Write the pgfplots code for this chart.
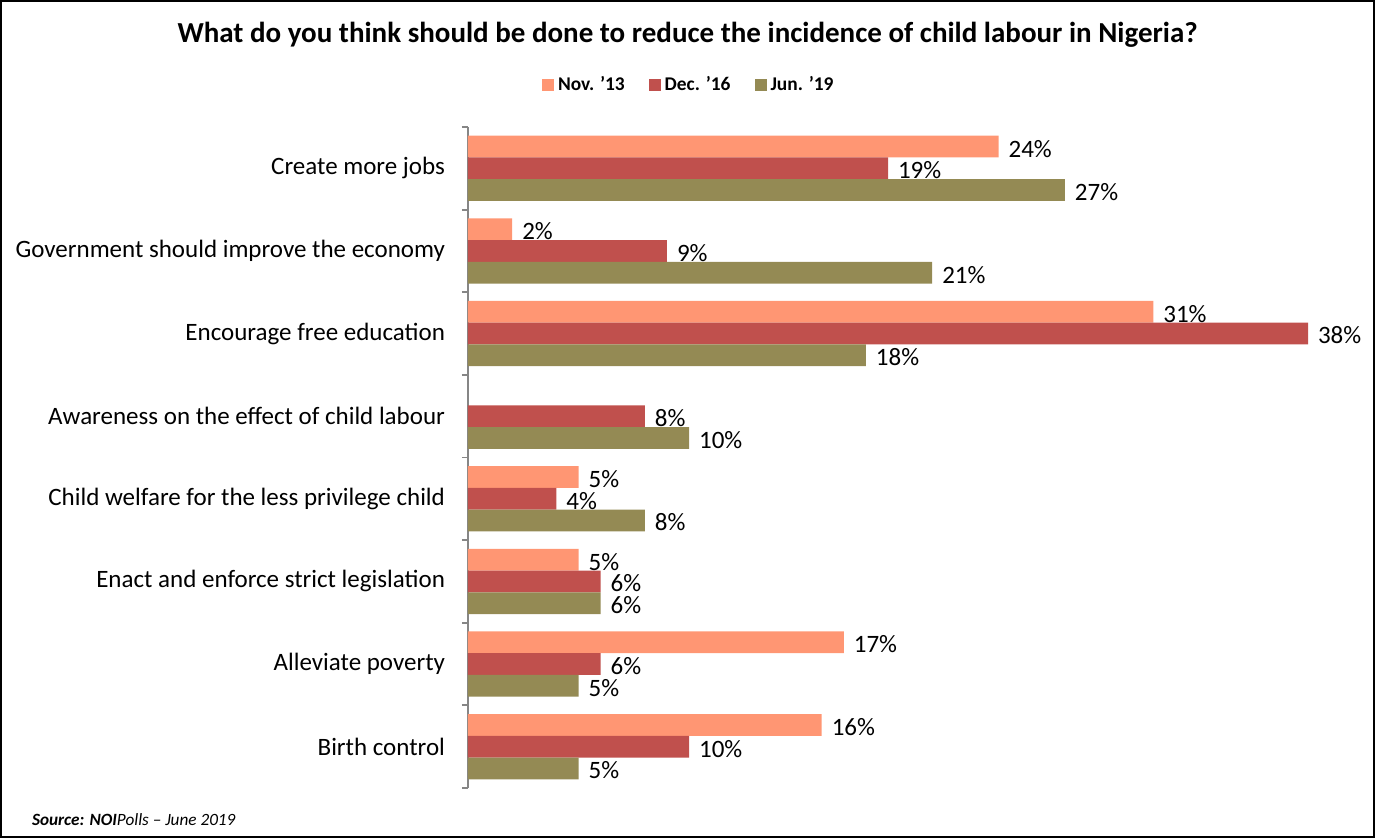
\documentclass[border=0pt]{standalone}
\usepackage{pgfplots}
\pgfplotsset{compat=1.18}
\usepackage{fontspec}
\setmainfont{Carlito}
\definecolor{cNov}{HTML}{FF9673}
\definecolor{cDec}{HTML}{C0504D}
\definecolor{cJun}{HTML}{948A54}
\definecolor{axgray}{HTML}{868686}
\begin{document}
\begin{tikzpicture}
\path[use as bounding box] (0,0) rectangle (687.5pt,419pt);
\draw[black,line width=0.8pt] (0.4pt,0.4pt) rectangle (687.1pt,418.6pt);
\node[font=\bfseries\fontsize{14.5}{16}\selectfont] at (343.75pt,401.5pt) {What do you think should be done to reduce the incidence of child labour in Nigeria?};
\node[anchor=west,font=\fontsize{8.6}{10}\selectfont\itshape] at (12.5pt,9pt) {\textbf{Source: NOI}Polls -- June 2019};
\begin{axis}[
  at={(234pt,25pt)}, anchor=south west,
  scale only axis, width=420pt, height=330.5pt,
  xmin=0, xmax=38, ymin=-0.5, ymax=7.5,
  y dir=reverse,
  axis x line=none,
  axis y line*=left,
  y axis line style={axgray, line width=0.9pt},
  xbar, bar width=0.263,
  ytick={0,...,7},
  yticklabels={Create more jobs, Government should improve the economy, Encourage free education, Awareness on the effect of child labour, Child welfare for the less privilege child, Enact and enforce strict legislation, Alleviate poverty, Birth control},
  minor ytick={-0.5,0.5,...,7.5},
  major tick length=0pt, minor tick length=3pt,
  tick align=outside,
  minor tick style={axgray, line width=0.9pt},
  yticklabel style={font=\fontsize{12.5}{14}\selectfont, xshift=-8pt},
  /pgf/number format/assume math mode=true,
  nodes near coords={\pgfmathprintnumber{\pgfplotspointmeta}\%},
  every node near coord/.append style={font=\fontsize{12.5}{14}\selectfont, black, xshift=1.5pt, yshift=-1pt, inner ysep=1pt},
  clip=false,
  legend columns=3,
  legend style={at={(0.264,1.0635)}, anchor=center, draw=none, fill=none,
    font=\bfseries\fontsize{9.7}{11}\selectfont,
    /tikz/every even column/.append style={column sep=10pt}},
  legend image code/.code={\fill[#1] (0pt,-3pt) rectangle (6pt,3pt);},
]
\addplot[fill=cNov, draw=none, bar shift=-0.263] coordinates {(24,0) (2,1) (31,2) (5,4) (5,5) (17,6) (16,7)};
\addplot[fill=cDec, draw=none, bar shift=0] coordinates {(19,0) (9,1) (38,2) (8,3) (4,4) (6,5) (6,6) (10,7)};
\addplot[fill=cJun, draw=none, bar shift=0.263] coordinates {(27,0) (21,1) (18,2) (10,3) (8,4) (6,5) (5,6) (5,7)};
\legend{Nov. '13, Dec. '16, Jun. '19}
\end{axis}
\end{tikzpicture}
\end{document}
